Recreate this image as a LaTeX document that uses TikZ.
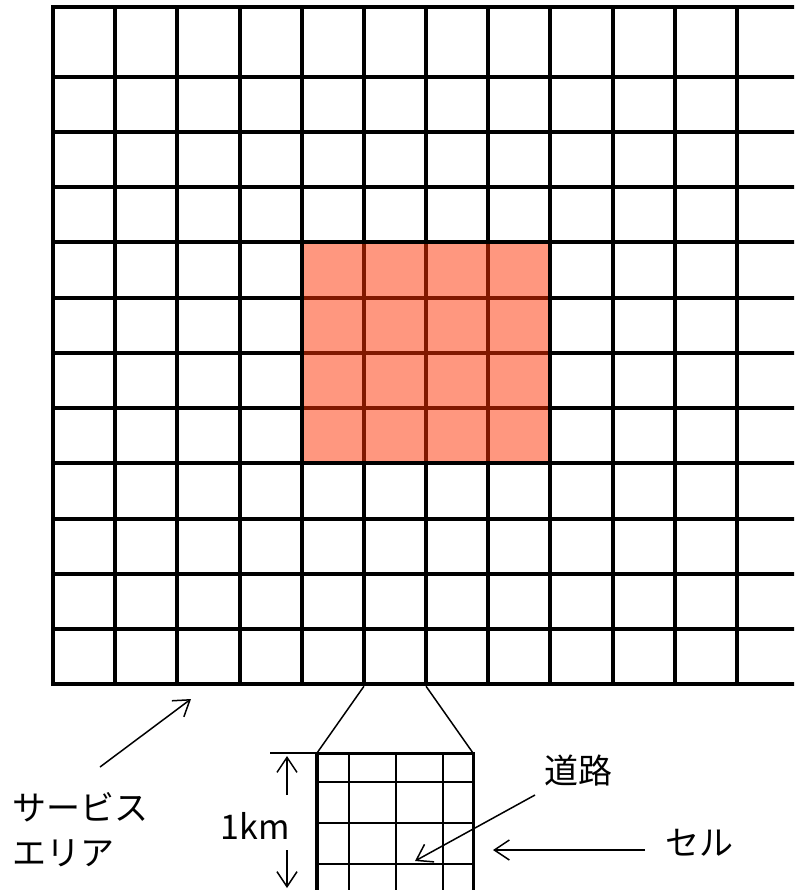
\documentclass[tikz,border=0pt]{standalone}
\usepackage{fontspec}
\setmainfont{Noto Sans CJK JP}
\usetikzlibrary{arrows.meta}

\definecolor{hlred}{RGB}{255,48,0}

\newcommand*{\gleft}{53}
\newcommand*{\gright}{796}
\newcommand*{\gtop}{6.7}
\newcommand*{\gbottom}{684.3}
\newcommand*{\colw}{62.18}
\newcommand*{\rowh}{55.24}

\begin{document}
\begin{tikzpicture}
[
	x=1pt, y=-1pt,
	gridline/.style={line width=4pt, line cap=rect},
	cellline/.style={line width=2pt},
	thinline/.style={line width=1.5pt},
	pointer/.style={-{Straight Barb[length=15pt,width=20pt]}, line width=1.5pt},
	tagtext/.style={inner sep=0pt, font=\fontsize{34}{45}\selectfont}
]
	\useasboundingbox (0,0) rectangle (794,890);
	\clip (0,0) rectangle (794,890);

	% service area grid
	\foreach \i in {0,...,12} {
		\draw[gridline] (\gleft+\i*\colw,\gtop) -- (\gleft+\i*\colw,\gbottom);
	}
	\draw[gridline] (\gleft,\gtop) -- (\gright,\gtop);
	\foreach \j in {0,...,11} {
		\draw[gridline] (\gleft,76.7+\j*\rowh) -- (\gright,76.7+\j*\rowh);
	}

	% highlighted block
	\fill[hlred, fill opacity=0.5]
	  (\gleft+4*\colw+2,76.7+3*\rowh+2) rectangle (\gleft+8*\colw-2,76.7+7*\rowh-2);

	% one cell, zoomed
	\coordinate (zl) at (317,753);
	\coordinate (zr) at (473,753);
	\foreach \x in {349,396,443} {
		\draw[cellline] (\x,753) -- (\x,892);
	}
	\foreach \y in {782,823,864} {
		\draw[cellline] (317,\y) -- (473,\y);
	}
	\draw[line width=4pt] (zl) -- (317,892);
	\draw[line width=3pt] (zr) -- (473,892);
	\draw[line width=3pt, line cap=rect] (zl) -- (zr);

	% zoom lines
	\coordinate (ml) at (\gleft+5*\colw,\gbottom+2);
	\coordinate (mr) at (\gleft+6*\colw,\gbottom+2);
	\draw[thinline] (ml) -- (zl);
	\draw[thinline] (mr) -- (zr);

	% labels
	\node[tagtext, anchor=north west, align=left] (area) at (12,792) {サービス\\エリア};
	\node[tagtext] (km) at (255,826) {1km};
	\node[tagtext] (road) at (578,771) {道路};
	\node[tagtext] (cell) at (699,843) {セル};

	% dimension
	\coordinate (dimend) at (270,753);
	\draw[thinline] (dimend) -- (zl);
	\coordinate (kmup0) at (287,795);
	\coordinate (kmup1) at (287,756);
	\coordinate (kmdn0) at (287,850);
	\coordinate (kmdn1) at (287,888);
	\draw[pointer] (kmup0) -- (kmup1);
	\draw[pointer] (kmdn0) -- (kmdn1);

	% pointers
	\coordinate (areatail) at (100,767);
	\coordinate (areahead) at (191,699);
	\draw[pointer] (areatail) -- (areahead);
	\coordinate (roadtail) at (535,795);
	\coordinate (roadhead) at (415,861);
	\draw[pointer] (roadtail) -- (roadhead);
	\coordinate (celltail) at (645,850);
	\coordinate (cellhead) at (493,850);
	\draw[pointer] (celltail) -- (cellhead);

\end{tikzpicture}
\end{document}
